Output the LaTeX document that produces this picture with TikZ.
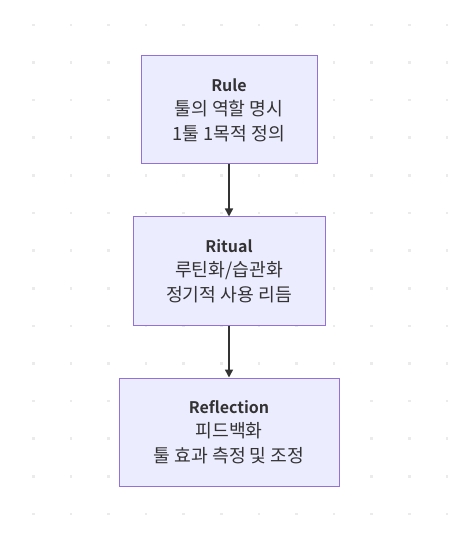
\documentclass[tikz,border=0pt]{standalone}
\usepackage{fontspec}
\setmainfont{Noto Sans CJK KR}[BoldFont={Noto Sans CJK KR Bold}]
\newfontfamily\kofont{Noto Sans CJK KR}[Scale=1.14]
\usetikzlibrary{arrows.meta}
\definecolor{boxfill}{HTML}{ECECFF}
\definecolor{boxline}{HTML}{9370DB}
\definecolor{txt}{HTML}{333333}
\definecolor{dotc}{HTML}{EBEBEB}
\tikzset{
  stepbox/.style={draw=boxline, fill=boxfill, line width=0.75pt, text=txt,
    align=center, inner sep=0pt, font=\fontsize{12pt}{18.3pt}\selectfont,
    minimum height=81pt},
  flow/.style={draw=txt, line width=1.1pt, -{Triangle[length=6pt,width=6pt]}},
}
\begin{document}
\begin{tikzpicture}[x=0.75pt,y=-0.75pt]
\useasboundingbox (0,0) rectangle (474,548);
\fill[white] (0,0) rectangle (474,548);
\foreach \i in {0,...,11}{
  \foreach \j in {0,...,13}{
    \fill[dotc] ({33.3+37.6*\i-1.3},{25+37.6*\j-1.3}) rectangle ++(2.6,2.6);
  }
}
\node[stepbox, minimum width=132pt] (rule) at (229,110) {\textbf{Rule}\\{\kofont 툴의 역할 명시}\\{\kofont 1툴 1목적 정의}};
\node[stepbox, minimum width=144pt] (ritual) at (229,271) {\textbf{Ritual}\\{\kofont 루틴화/습관화}\\{\kofont 정기적 사용 리듬}};
\node[stepbox, minimum width=165pt] (refl) at (229,432) {\textbf{Reflection}\\{\kofont 피드백화}\\{\kofont 툴 효과 측정 및 조정}};
\draw[flow] (rule) -- (ritual);
\draw[flow] (ritual) -- (refl);
\end{tikzpicture}
\end{document}
